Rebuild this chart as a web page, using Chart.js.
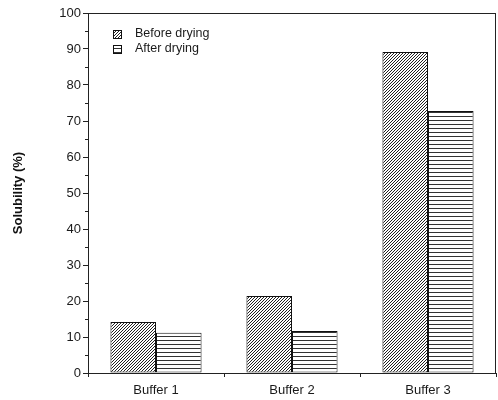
<!DOCTYPE html>
<html lang="en">
<head>
    <meta charset="UTF-8">
    <title>Solubility before and after drying</title>
    <script src="https://cdn.jsdelivr.net/npm/chart.js"></script>
    <style>
        body { margin: 0; background: #fff; }
        #wrap { width: 498px; height: 400px; }
    </style>
</head>
<body>
    <div id="wrap"><canvas id="myChart" width="498" height="400"></canvas></div>
    <script>
        const buffers = ['Buffer 1', 'Buffer 2', 'Buffer 3'];
        const beforeDrying = [14.2, 21.4, 89.2];
        const afterDrying = [11.2, 11.7, 72.8];
        const yTicks = [0, 10, 20, 30, 40, 50, 60, 70, 80, 90, 100];
        const yMinorTicks = [5, 15, 25, 35, 45, 55, 65, 75, 85, 95];

        // hatch fills like the printed figure
        function diagonalHatch() {
            const c = document.createElement('canvas');
            c.width = 3; c.height = 3;
            const g = c.getContext('2d');
            g.fillStyle = '#fff';
            g.fillRect(0, 0, 3, 3);
            g.fillStyle = '#222';
            for (let i = 0; i < 3; i++) g.fillRect(i, 2 - i, 1, 1);
            return g.createPattern(c, 'repeat');
        }
        function horizontalHatch() {
            const c = document.createElement('canvas');
            c.width = 4; c.height = 4;
            const g = c.getContext('2d');
            g.fillStyle = '#fff';
            g.fillRect(0, 0, 4, 4);
            g.fillStyle = '#333';
            g.fillRect(0, 0, 4, 1);
            return g.createPattern(c, 'repeat');
        }

        const beforeFill = diagonalHatch();
        const afterFill = horizontalHatch();

        const framePlugin = {
            id: 'frame',
            afterDraw(chart) {
                const {ctx, chartArea: a, scales} = chart;
                ctx.save();
                ctx.strokeStyle = '#222';
                ctx.lineWidth = 1;
                ctx.strokeRect(Math.round(a.left) + 0.5, Math.round(a.top) + 0.5,
                    Math.round(a.right - a.left) - 1, Math.round(a.bottom - a.top));
                // minor ticks on y
                ctx.beginPath();
                yMinorTicks.forEach(v => {
                    const y = Math.round(scales.y.getPixelForValue(v)) + 0.5;
                    ctx.moveTo(a.left - 3, y);
                    ctx.lineTo(a.left, y);
                });
                ctx.stroke();
                // legend inside the plot
                const items = [['Before drying', beforeFill], ['After drying', afterFill]];
                ctx.font = '12.5px "Liberation Sans", Arial, sans-serif';
                ctx.textBaseline = 'middle';
                items.forEach((it, i) => {
                    const y = 30 + i * 15;
                    ctx.fillStyle = it[1];
                    ctx.fillRect(113, y, 8, 8);
                    ctx.strokeStyle = '#111';
                    ctx.strokeRect(113.5, y + 0.5, 8, 8);
                    ctx.fillStyle = '#1a1a1a';
                    ctx.fillText(it[0], 135, y + 4);
                });
                ctx.restore();
            }
        };

        const ctx = document.getElementById('myChart').getContext('2d');
        const myChart = new Chart(ctx, {
            type: 'bar',
            data: {
                labels: buffers,
                datasets: [
                    {
                        label: 'Before drying',
                        data: beforeDrying,
                        backgroundColor: beforeFill,
                        borderColor: '#111',
                        borderWidth: 1,
                        borderSkipped: false
                    },
                    {
                        label: 'After drying',
                        data: afterDrying,
                        backgroundColor: afterFill,
                        borderColor: '#111',
                        borderWidth: 1,
                        borderSkipped: false
                    }
                ]
            },
            options: {
                responsive: false,
                animation: false,
                layout: { padding: { top: 13, right: 2, left: 0, bottom: 0 } },
                datasets: { bar: { categoryPercentage: 0.67, barPercentage: 1.0 } },
                plugins: { legend: { display: false }, tooltip: { enabled: false } },
                scales: {
                    x: {
                        grid: { drawOnChartArea: false, drawTicks: true, tickLength: 4, color: '#222', offset: true },
                        border: { color: '#222', width: 1 },
                        ticks: { color: '#1a1a1a', padding: 6, font: { family: '"Liberation Sans", Arial, sans-serif', size: 13 } },
                        afterFit: s => { s.height = 27; }
                    },
                    y: {
                        min: 0,
                        max: 100,
                        afterBuildTicks: s => { s.ticks = yTicks.map(v => ({ value: v })); },
                        grid: { drawOnChartArea: false, drawTicks: true, tickLength: 5, color: '#222' },
                        border: { color: '#222', width: 1 },
                        ticks: { color: '#1a1a1a', padding: 2, font: { family: '"Liberation Sans", Arial, sans-serif', size: 13 } },
                        title: {
                            display: true,
                            text: 'Solubility (%)',
                            color: '#111',
                            padding: { top: 11, bottom: 0 },
                            font: { family: '"Liberation Sans", Arial, sans-serif', size: 13, weight: 'bold' }
                        },
                        afterFit: s => { s.width = 88; }
                    }
                }
            },
            plugins: [framePlugin]
        });
    </script>
</body>
</html>
